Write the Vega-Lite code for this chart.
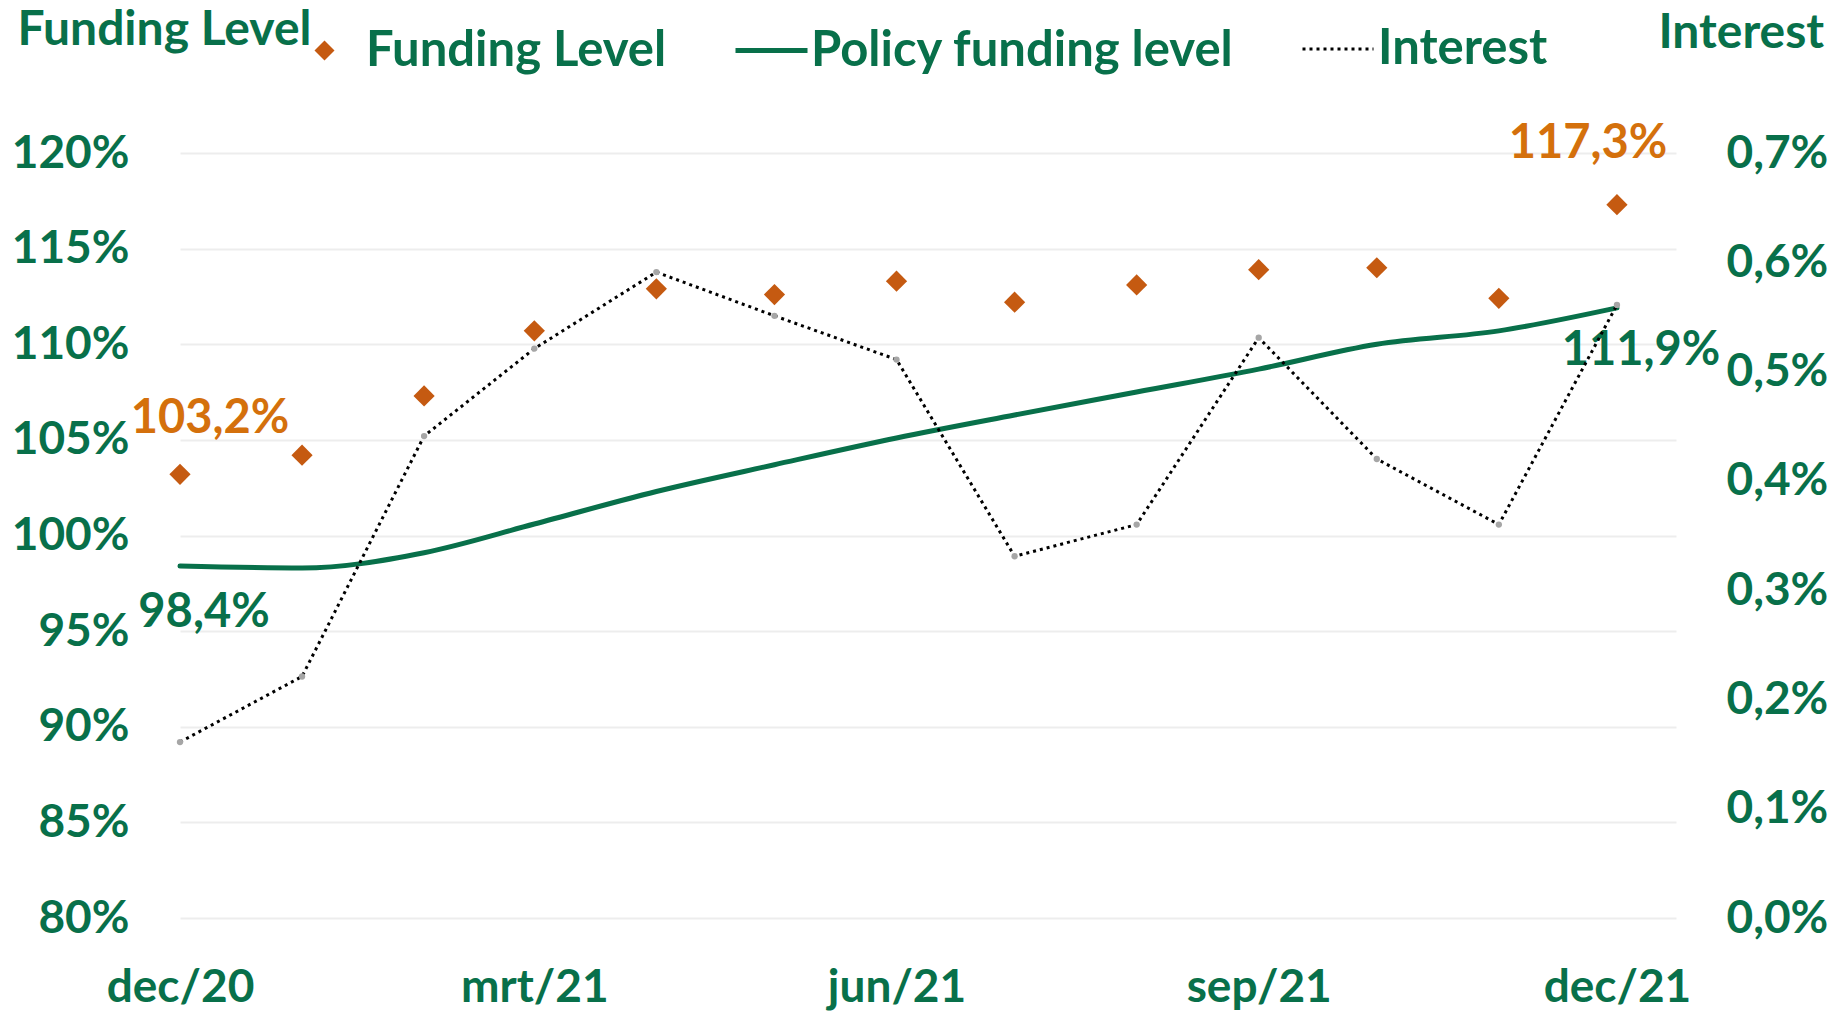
{
  "$schema": "https://vega.github.io/schema/vega-lite/v6.json",
  "width": 1496,
  "height": 765,
  "autosize": {"type": "none"},
  "padding": {"left": 180, "top": 153, "right": 168, "bottom": 96},
  "background": "white",
  "data": {
    "values": [
      {"month": "dec/20", "date": "2020-12-01", "funding": 1.032, "policy": 0.984, "interest": 0.00161},
      {"month": "jan/21", "date": "2021-01-01", "funding": 1.042, "policy": 0.983, "interest": 0.00221},
      {"month": "feb/21", "date": "2021-02-01", "funding": 1.073, "policy": 0.991, "interest": 0.00441},
      {"month": "mrt/21", "date": "2021-03-01", "funding": 1.107, "policy": 1.006, "interest": 0.00521},
      {"month": "apr/21", "date": "2021-04-01", "funding": 1.129, "policy": 1.023, "interest": 0.00591},
      {"month": "mei/21", "date": "2021-05-01", "funding": 1.126, "policy": 1.037, "interest": 0.00551},
      {"month": "jun/21", "date": "2021-06-01", "funding": 1.133, "policy": 1.051, "interest": 0.00511},
      {"month": "jul/21", "date": "2021-07-01", "funding": 1.122, "policy": 1.063, "interest": 0.00331},
      {"month": "aug/21", "date": "2021-08-01", "funding": 1.131, "policy": 1.075, "interest": 0.0036},
      {"month": "sep/21", "date": "2021-09-01", "funding": 1.139, "policy": 1.087, "interest": 0.00531},
      {"month": "okt/21", "date": "2021-10-01", "funding": 1.140, "policy": 1.100, "interest": 0.0042},
      {"month": "nov/21", "date": "2021-11-01", "funding": 1.124, "policy": 1.107, "interest": 0.0036},
      {"month": "dec/21", "date": "2021-12-01", "funding": 1.173, "policy": 1.119, "interest": 0.00561}
    ]
  },
  "encoding": {
    "x": {
      "field": "date",
      "type": "temporal",
      "scale": {"type": "utc", "domain": [1606780800000, 1639612800000], "nice": false},
      "axis": {
        "values": [1606780800000, 1614556800000, 1622505600000, 1630454400000, 1638316800000],
        "format": "%b/%y",
        "title": null,
        "grid": false,
        "labelPadding": 47,
        "labelFlush": false,
        "labelOverlap": false
      }
    }
  },
  "layer": [
    {
      "layer": [
        {
          "mark": {"type": "line", "interpolate": "monotone", "strokeWidth": 5, "strokeCap": "round"},
          "encoding": {
            "y": {
              "field": "policy",
              "type": "quantitative",
              "scale": {"domain": [0.8, 1.2], "nice": false, "zero": false},
              "axis": {
                "values": [0.8, 0.85, 0.9, 0.95, 1.0, 1.05, 1.1, 1.15, 1.2],
                "format": ".0%",
                "grid": true,
                "gridColor": "#EDEDED",
                "gridWidth": 2,
                "labelPadding": 51,
                "title": "Funding Level",
                "titleAngle": 0,
                "titleAlign": "left",
                "titleBaseline": "middle",
                "titleX": -163,
                "titleY": -123,
                "titleFontSize": 48
              }
            },
            "color": {
              "datum": "Policy funding level",
              "scale": {"range": ["#08704A"]},
              "legend": {
                "orient": "none",
                "legendX": 553,
                "legendY": -141,
                "title": null,
                "symbolType": "stroke",
                "symbolSize": 5184,
                "symbolStrokeWidth": 5,
                "labelOffset": 1
              }
            }
          }
        },
        {
          "mark": {"type": "point", "filled": true, "size": 450, "color": "#C55A11", "opacity": 1},
          "encoding": {
            "y": {"field": "funding", "type": "quantitative"},
            "shape": {
              "datum": "Funding Level",
              "scale": {"range": ["diamond"]},
              "legend": {
                "orient": "none",
                "legendX": 120,
                "legendY": -127,
                "title": null,
                "symbolSize": 400,
                "symbolFillColor": "#C55A11",
                "symbolStrokeColor": "#C55A11",
                "labelOffset": 17
              }
            }
          }
        },
        {
          "transform": [{"filter": {"field": "month", "equal": "dec/20"}}],
          "mark": {"type": "text", "dx": 30, "dy": -55, "align": "center", "baseline": "middle", "font": "Lato", "fontWeight": "bold", "fontSize": 47, "color": "#D4700C"},
          "encoding": {"y": {"field": "funding", "type": "quantitative"}, "text": {"field": "funding", "format": ".1%"}}
        },
        {
          "transform": [{"filter": {"field": "month", "equal": "dec/21"}}],
          "mark": {"type": "text", "dx": -29, "dy": -61, "align": "center", "baseline": "middle", "font": "Lato", "fontWeight": "bold", "fontSize": 47, "color": "#D4700C"},
          "encoding": {"y": {"field": "funding", "type": "quantitative"}, "text": {"field": "funding", "format": ".1%"}}
        },
        {
          "transform": [{"filter": {"field": "month", "equal": "dec/20"}}],
          "mark": {"type": "text", "dx": 24, "dy": 47, "align": "center", "baseline": "middle", "font": "Lato", "fontWeight": "bold", "fontSize": 47, "color": "#08704A"},
          "encoding": {"y": {"field": "policy", "type": "quantitative"}, "text": {"field": "policy", "format": ".1%"}}
        },
        {
          "transform": [{"filter": {"field": "month", "equal": "dec/21"}}],
          "mark": {"type": "text", "dx": 24, "dy": 43, "align": "center", "baseline": "middle", "font": "Lato", "fontWeight": "bold", "fontSize": 47, "color": "#08704A"},
          "encoding": {"y": {"field": "policy", "type": "quantitative"}, "text": {"field": "policy", "format": ".1%"}}
        }
      ]
    },
    {
      "layer": [
        {
          "mark": {"type": "line", "strokeWidth": 3, "color": "black"},
          "encoding": {
            "y": {
              "field": "interest",
              "type": "quantitative",
              "scale": {"domain": [0, 0.007], "nice": false},
              "axis": {
                "orient": "right",
                "values": [0, 0.001, 0.002, 0.003, 0.004, 0.005, 0.006, 0.007],
                "format": ".1%",
                "grid": false,
                "labelPadding": 50,
                "title": "Interest",
                "titleAngle": 0,
                "titleAlign": "left",
                "titleBaseline": "middle",
                "titleX": -18,
                "titleY": -120,
                "titleFontSize": 48
              }
            },
            "strokeDash": {
              "datum": "Interest",
              "scale": {"range": [[3, 4]]},
              "legend": {
                "orient": "none",
                "legendX": 1121,
                "legendY": -141,
                "title": null,
                "symbolType": "stroke",
                "symbolSize": 5041,
                "symbolStrokeWidth": 3,
                "symbolStrokeColor": "black",
                "labelOffset": 3
              }
            }
          }
        },
        {
          "mark": {"type": "point", "filled": true, "size": 40, "color": "#A6A6A6", "opacity": 1},
          "encoding": {"y": {"field": "interest", "type": "quantitative"}}
        }
      ]
    }
  ],
  "resolve": {"scale": {"y": "independent"}},
  "config": {
    "view": {"stroke": null},
    "font": "Lato",
    "locale": {
      "number": {"decimal": ",", "thousands": ".", "grouping": [3], "currency": ["€ ", ""]},
      "time": {
        "dateTime": "%a %e %B %Y %X",
        "date": "%d-%m-%Y",
        "time": "%H:%M:%S",
        "periods": ["AM", "PM"],
        "days": ["zondag", "maandag", "dinsdag", "woensdag", "donderdag", "vrijdag", "zaterdag"],
        "shortDays": ["zo", "ma", "di", "wo", "do", "vr", "za"],
        "months": ["januari", "februari", "maart", "april", "mei", "juni", "juli", "augustus", "september", "oktober", "november", "december"],
        "shortMonths": ["jan", "feb", "mrt", "apr", "mei", "jun", "jul", "aug", "sep", "okt", "nov", "dec"]
      }
    },
    "axis": {
      "labelFont": "Lato",
      "labelFontWeight": "bold",
      "labelFontSize": 46,
      "labelColor": "#08704A",
      "titleFont": "Lato",
      "titleFontWeight": "bold",
      "titleFontSize": 46,
      "titleColor": "#08704A",
      "domain": false,
      "ticks": false
    },
    "legend": {
      "labelFont": "Lato",
      "labelFontWeight": "bold",
      "labelFontSize": 49,
      "labelColor": "#08704A",
      "padding": 0,
      "labelLimit": 600
    }
  }
}
